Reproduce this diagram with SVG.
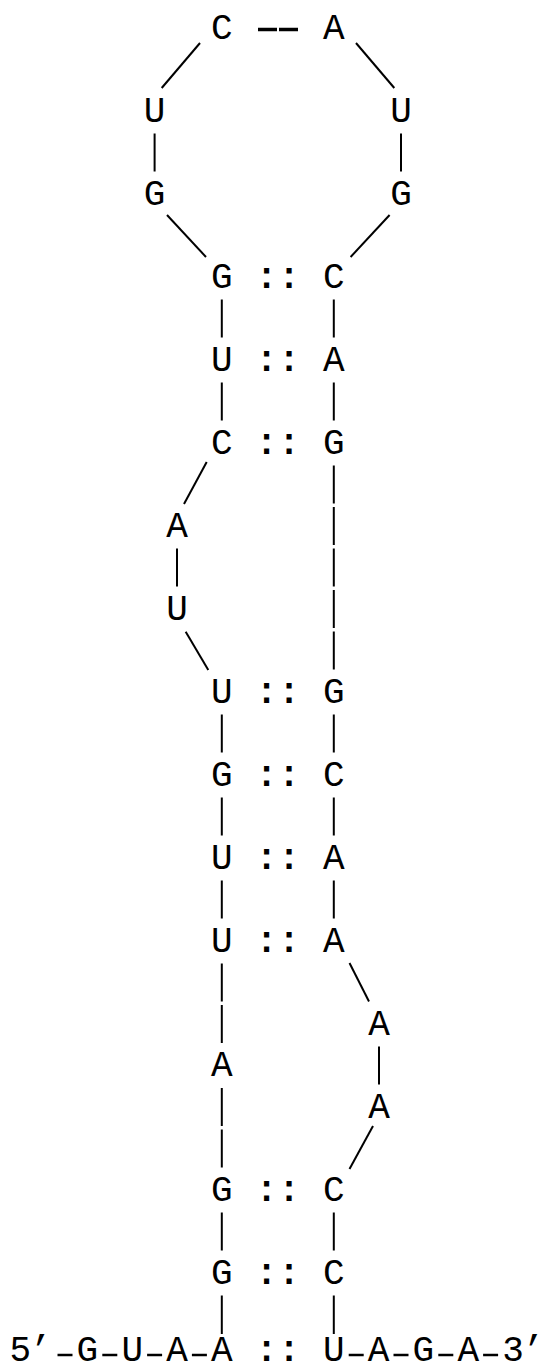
<svg xmlns="http://www.w3.org/2000/svg" width="546" height="1371" viewBox="0 0 546 1371">
<style>
.nt{font-family:"Liberation Mono","Courier New",monospace;font-size:36px;fill:#000;text-anchor:middle}
.bp{font-family:"Liberation Mono","Courier New",monospace;font-size:36px;font-weight:bold;fill:#000;text-anchor:middle}
.ln{stroke:#000;stroke-width:2;fill:none}
.dash{stroke:#000;stroke-width:3.5;fill:none}
.hy{stroke:#000;stroke-width:2.5;fill:none}
</style>
<rect width="546" height="1371" fill="#fff"/>
<g id="connectors">
<line class="dash" x1="258" y1="29.5" x2="277" y2="29.5"/>
<line class="dash" x1="279" y1="29.5" x2="298" y2="29.5"/>
<line class="ln" x1="161.7" y1="88" x2="200" y2="43"/>
<line class="ln" x1="356" y1="43" x2="394.3" y2="88"/>
<line class="ln" x1="154.6" y1="133.5" x2="154.6" y2="171.5"/>
<line class="ln" x1="401" y1="133.5" x2="401" y2="171.5"/>
<line class="ln" x1="167" y1="215" x2="206" y2="257"/>
<line class="ln" x1="389.6" y1="215" x2="350.6" y2="257"/>
<text class="bp" x="266.6 289.0" y="287.5">::</text>
<line class="ln" x1="221.8" y1="299.5" x2="221.8" y2="337.5"/>
<line class="ln" x1="333.8" y1="299.5" x2="333.8" y2="337.5"/>
<text class="bp" x="266.6 289.0" y="370.5">::</text>
<line class="ln" x1="221.8" y1="382.5" x2="221.8" y2="420.5"/>
<line class="ln" x1="333.8" y1="382.5" x2="333.8" y2="420.5"/>
<text class="bp" x="266.6 289.0" y="453.5">::</text>
<line class="ln" x1="184" y1="504" x2="206.7" y2="462"/>
<line class="ln" x1="333.8" y1="465.5" x2="333.8" y2="503.5"/>
<line class="ln" x1="333.8" y1="507" x2="333.8" y2="545"/>
<line class="ln" x1="177" y1="548.5" x2="177" y2="586.5"/>
<line class="ln" x1="333.8" y1="548.5" x2="333.8" y2="586.5"/>
<line class="ln" x1="333.8" y1="590" x2="333.8" y2="628"/>
<line class="ln" x1="185.7" y1="631.7" x2="208.3" y2="670"/>
<line class="ln" x1="333.8" y1="631.5" x2="333.8" y2="669.5"/>
<text class="bp" x="266.6 289.0" y="702.5">::</text>
<line class="ln" x1="221.8" y1="714.5" x2="221.8" y2="752.5"/>
<line class="ln" x1="333.8" y1="714.5" x2="333.8" y2="752.5"/>
<text class="bp" x="266.6 289.0" y="785.5">::</text>
<line class="ln" x1="221.8" y1="797.5" x2="221.8" y2="835.5"/>
<line class="ln" x1="333.8" y1="797.5" x2="333.8" y2="835.5"/>
<text class="bp" x="266.6 289.0" y="868.5">::</text>
<line class="ln" x1="221.8" y1="880.5" x2="221.8" y2="918.5"/>
<line class="ln" x1="333.8" y1="880.5" x2="333.8" y2="918.5"/>
<text class="bp" x="266.6 289.0" y="951.5">::</text>
<line class="ln" x1="221.8" y1="963.5" x2="221.8" y2="1001.5"/>
<line class="ln" x1="349.5" y1="963" x2="369" y2="1001.5"/>
<line class="ln" x1="221.8" y1="1005" x2="221.8" y2="1043"/>
<line class="ln" x1="379" y1="1046.5" x2="379" y2="1084.5"/>
<line class="ln" x1="221.8" y1="1088" x2="221.8" y2="1126"/>
<line class="ln" x1="221.8" y1="1129.5" x2="221.8" y2="1167.5"/>
<line class="ln" x1="373" y1="1126" x2="349.5" y2="1169"/>
<text class="bp" x="266.6 289.0" y="1200.5">::</text>
<line class="ln" x1="221.8" y1="1212.5" x2="221.8" y2="1250.5"/>
<line class="ln" x1="333.8" y1="1212.5" x2="333.8" y2="1250.5"/>
<text class="bp" x="266.6 289.0" y="1283.5">::</text>
<line class="ln" x1="221.8" y1="1295.5" x2="221.8" y2="1334"/>
<line class="ln" x1="333.8" y1="1295.5" x2="333.8" y2="1334"/>
<text class="bp" x="266.6 289.0" y="1360.5">::</text>
<line class="hy" x1="57.5" y1="1355" x2="72.5" y2="1355"/>
<line class="hy" x1="102.3" y1="1355" x2="117.3" y2="1355"/>
<line class="hy" x1="147.1" y1="1355" x2="162.1" y2="1355"/>
<line class="hy" x1="191.9" y1="1355" x2="206.9" y2="1355"/>
<line class="hy" x1="348.7" y1="1355" x2="363.7" y2="1355"/>
<line class="hy" x1="393.5" y1="1355" x2="408.5" y2="1355"/>
<line class="hy" x1="438.3" y1="1355" x2="453.3" y2="1355"/>
<line class="hy" x1="483.1" y1="1355" x2="498.1" y2="1355"/>
</g>
<g id="n1"><text class="nt" x="221.8" y="38.5">C</text></g>
<g id="n2"><text class="nt" x="333.8" y="38.5">A</text></g>
<g id="n3"><text class="nt" x="154.6" y="121.5">U</text></g>
<g id="n4"><text class="nt" x="401.0" y="121.5">U</text></g>
<g id="n5"><text class="nt" x="154.6" y="204.5">G</text></g>
<g id="n6"><text class="nt" x="401.0" y="204.5">G</text></g>
<g id="n7"><text class="nt" x="221.8" y="287.5">G</text></g>
<g id="n8"><text class="nt" x="333.8" y="287.5">C</text></g>
<g id="n9"><text class="nt" x="221.8" y="370.5">U</text></g>
<g id="n10"><text class="nt" x="333.8" y="370.5">A</text></g>
<g id="n11"><text class="nt" x="221.8" y="453.5">C</text></g>
<g id="n12"><text class="nt" x="333.8" y="453.5">G</text></g>
<g id="n13"><text class="nt" x="177.0" y="536.5">A</text></g>
<g id="n14"><text class="nt" x="177.0" y="619.5">U</text></g>
<g id="n15"><text class="nt" x="221.8" y="702.5">U</text></g>
<g id="n16"><text class="nt" x="333.8" y="702.5">G</text></g>
<g id="n17"><text class="nt" x="221.8" y="785.5">G</text></g>
<g id="n18"><text class="nt" x="333.8" y="785.5">C</text></g>
<g id="n19"><text class="nt" x="221.8" y="868.5">U</text></g>
<g id="n20"><text class="nt" x="333.8" y="868.5">A</text></g>
<g id="n21"><text class="nt" x="221.8" y="951.5">U</text></g>
<g id="n22"><text class="nt" x="333.8" y="951.5">A</text></g>
<g id="n23"><text class="nt" x="379" y="1034.5">A</text></g>
<g id="n24"><text class="nt" x="221.8" y="1076">A</text></g>
<g id="n25"><text class="nt" x="379" y="1117.5">A</text></g>
<g id="n26"><text class="nt" x="221.8" y="1200.5">G</text></g>
<g id="n27"><text class="nt" x="333.8" y="1200.5">C</text></g>
<g id="n28"><text class="nt" x="221.8" y="1283.5">G</text></g>
<g id="n29"><text class="nt" x="333.8" y="1283.5">C</text></g>
<g id="end5"><text class="nt" x="20.2 40.6" y="1360.5">5’</text></g>
<g id="n30"><text class="nt" x="87.4" y="1360.5">G</text></g>
<g id="n31"><text class="nt" x="132.2" y="1360.5">U</text></g>
<g id="n32"><text class="nt" x="177.0" y="1360.5">A</text></g>
<g id="n33"><text class="nt" x="221.8" y="1360.5">A</text></g>
<g id="n34"><text class="nt" x="333.8" y="1360.5">U</text></g>
<g id="n35"><text class="nt" x="378.6" y="1360.5">A</text></g>
<g id="n36"><text class="nt" x="423.4" y="1360.5">G</text></g>
<g id="n37"><text class="nt" x="468.2" y="1360.5">A</text></g>
<g id="end3"><text class="nt" x="513.0 533.4" y="1360.5">3’</text></g>
</svg>
